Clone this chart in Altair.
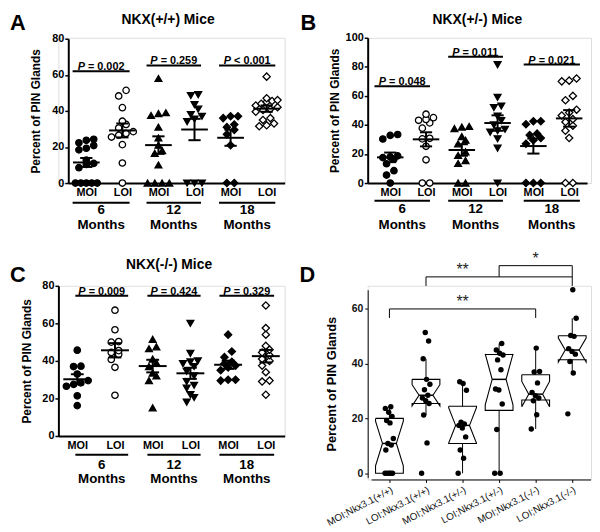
import altair as alt
import numpy as np
import pandas as pd

FONT = "Liberation Sans"

# ---------------- data: percent of PIN glands per mouse ----------------
# Panel A  NKX(+/+)
A_moi_6 = [0, 0, 0, 0, 0, 8.5, 10.3, 10.9, 12.7, 18.4, 19.3, 20.8, 22.3, 23.7, 24.3]
A_loi_6 = [0, 11.1, 21.3, 25.5, 26.5, 27.5, 28.5, 30.5, 32.5, 34.3, 41.8, 48.3, 51.4]
A_moi_12 = [0, 0, 0, 0, 10, 16.5, 18, 21, 25, 31, 37.5, 38.5, 39, 58]
A_loi_12 = [0, 0, 0, 34, 35.5, 37, 38, 41, 43.5, 48.5, 49]
A_moi_18 = [0, 0, 21, 27, 29.5, 31, 32.5, 36, 37, 37]
A_loi_18 = [31.5, 32, 33, 35, 36, 39.5, 40.5, 41, 42, 43, 44, 45, 45.5, 46, 47, 59]
# Panel B  NKX(+/-)
B_moi_6 = [0, 5.5, 8.5, 13.3, 16.5, 17.5, 18, 18.7, 30.3, 32.8, 33.4]
B_loi_6 = [0, 0, 16, 25.3, 30.4, 30.8, 37.8, 41.4, 43.2, 43.8, 45, 47.4]
B_moi_12 = [0, 0, 13.5, 15.5, 19, 21.5, 27, 29.5, 32, 37.5, 38.5, 39]
B_loi_12 = [0, 24, 30.5, 35, 36, 37, 40, 43, 46, 52, 53, 59, 81.5]
B_moi_18 = [0, 0, 0, 27, 29.5, 31, 33, 34, 40.5, 42.5, 42.5]
B_loi_18 = [0, 0, 31, 36, 39.5, 42, 44, 46.5, 48.5, 50.5, 57, 60, 70, 70.5, 72]
# Panel C  NKX(-/-)
C_moi_6 = [16.2, 21.4, 26.5, 27.5, 28.3, 29.5, 33, 37, 37.2, 45.7]
C_loi_6 = [21.7, 36.6, 40.8, 43.5, 44.5, 45.5, 50, 50.3, 56.6, 67]
C_moi_12 = [15, 29.5, 32, 33.5, 37, 39, 41, 46.5, 47.5, 51.5]
C_loi_12 = [18, 20.5, 22, 25.5, 27, 29, 32, 34.5, 37, 38.5, 39.5, 40, 44, 60]
C_moi_18 = [29.5, 30, 30, 35, 36.5, 37.5, 38.5, 39.5, 42, 45, 54]
C_loi_18 = [22, 29, 29.5, 34, 37.5, 40, 41, 43, 44.5, 46, 48, 54, 57.5, 69.5]

A_pvals = ["= 0.002", "= 0.259", "< 0.001"]
B_pvals = ["= 0.048", "= 0.011", "= 0.021"]
C_pvals = ["= 0.009", "= 0.424", "= 0.329"]

categories = ["MOI", "LOI", "MOI", "LOI", "MOI", "LOI"]
months = ["6", "12", "18"]

D_labels = ["MOI;Nkx3.1(+/+)", "LOI;Nkx3.1(+/+)", "MOI;Nkx3.1(+/-)",
            "LOI;Nkx3.1(+/-)", "MOI;Nkx3.1(-/-)", "LOI;Nkx3.1(-/-)"]
D_groups = [A_moi_6, A_loi_6, B_moi_6, B_loi_6, C_moi_6, C_loi_6]
D_sig_text = ["**", "**", "*"]

# ---------------- styles ----------------
SHAPES = ["circle", "circle", "triangle-up", "triangle-down", "diamond", "diamond"]
FILLS = ["black", "white", "black", "black", "black", "white"]
SIZES = [42, 42, 48, 48, 54, 54]


def swarm(vals, yppu, step=7.5, thresh=6.0, maxspan=22.0):
    vals = np.asarray(vals, dtype=float)
    order = np.argsort(vals, kind="stable")
    offs = np.zeros(len(vals))
    groups, cur, base = [], [order[0]], vals[order[0]]
    for k in order[1:]:
        if (vals[k] - base) * yppu < thresh:
            cur.append(k)
        else:
            groups.append(cur)
            cur, base = [k], vals[k]
    groups.append(cur)
    for g in groups:
        n = len(g)
        st = step if n < 2 else min(step, maxspan / (n - 1))
        for j, k in enumerate(g):
            offs[k] = (j - (n - 1) / 2) * st
    return offs


def text_layer(txt, x, y, size, weight="bold", align="center", baseline="alphabetic"):
    return alt.Chart(pd.DataFrame({"t": [txt]})).mark_text(
        font=FONT, fontSize=size, fontWeight=weight, align=align, baseline=baseline, color="black"
    ).encode(x=alt.value(x), y=alt.value(y), text="t:N")


def prism_panel(vals_list, pvals, g, anchor=False):
    xppu = (g["xr"][1] - g["xr"][0]) / (g["xdom"][1] - g["xdom"][0])
    yppu = abs(g["yr"][0] - g["yr"][1]) / (g["ydom"][1] - g["ydom"][0])
    xs = alt.Scale(domain=g["xdom"], range=g["xr"], nice=False, zero=False)
    ys = alt.Scale(domain=g["ydom"], range=g["yr"], nice=False)
    xaxis = alt.Axis(values=[0.5, 1.5, 2.5, 3.5, 4.5, 5.5],
                     labelExpr="floor(datum.value) % 2 == 0 ? 'MOI' : 'LOI'",
                     ticks=False, title=None, labelFont=FONT, labelFontWeight="bold",
                     labelFontSize=11, labelPadding=4, labelColor="black", labelAngle=0,
                     labelFlush=False, domainWidth=2, domainColor="black", grid=False)
    yaxis = alt.Axis(values=g["yticks"], tickSize=3.5, tickWidth=1.5, tickColor="black",
                     domainWidth=2, domainColor="black", labelFont=FONT, labelFontWeight="bold",
                     labelFontSize=11, labelPadding=1, labelColor="black", labelFlush=False,
                     title="Percent of PIN Glands", titleFont=FONT, titleFontWeight="bold",
                     titleFontSize=12, titleColor="black", titlePadding=g["tpad"],
                     offset=g["yoff"], grid=False)

    def X(f):
        return alt.X(f, type="quantitative", scale=xs, axis=xaxis)

    def Y(f):
        return alt.Y(f, type="quantitative", scale=ys, axis=yaxis)

    rows = []
    for i, vals in enumerate(vals_list):
        offs = swarm(vals, yppu)
        for v, o in zip(vals, offs):
            rows.append(dict(pos=i + 0.5, v=v, xj=i + 0.5 + o / xppu,
                             shape=SHAPES[i], fill=FILLS[i], size=SIZES[i]))
    df = pd.DataFrame(rows)

    pts = alt.Chart(df).mark_point(filled=True, stroke="black", strokeWidth=1.3, opacity=1).encode(
        x=X("xj"), y=Y("v"),
        shape=alt.Shape("shape:N", scale=None),
        fill=alt.Fill("fill:N", scale=None),
        size=alt.Size("size:Q", scale=None),
    )
    stats = alt.Chart(df).transform_aggregate(
        m="mean(v)", se="stderr(v)", groupby=["pos"]
    ).transform_calculate(
        lo="datum.m - datum.se", hi="datum.m + datum.se",
        xl="datum.pos - 0.37", xr="datum.pos + 0.37",
        cl="datum.pos - 0.17", cr="datum.pos + 0.17",
    )
    mean_rule = stats.mark_rule(strokeWidth=2, color="black").encode(x=X("xl"), x2="xr:Q", y=Y("m"))
    sem_rule = stats.mark_rule(strokeWidth=2, color="black").encode(x=X("pos"), y=Y("lo"), y2="hi:Q")
    cap_hi = stats.mark_rule(strokeWidth=2, color="black").encode(x=X("cl"), x2="cr:Q", y=Y("hi"))
    cap_lo = stats.mark_rule(strokeWidth=2, color="black").encode(x=X("cl"), x2="cr:Q", y=Y("lo"))

    pb = pd.DataFrame(dict(
        x1=[s[0] for s in g["spans"]], x2=[s[1] for s in g["spans"]],
        c=[(s[0] + s[1]) / 2 for s in g["spans"]], y=g["pbar_y"], t=pvals, m=months,
        mo=["Months"] * 3,
    ))
    bars = alt.Chart(pb).mark_rule(strokeWidth=2, color="black").encode(x=X("x1"), x2="x2:Q", y=Y("y"))
    p_it = alt.Chart(pb).mark_text(text="P", font=FONT, fontStyle="italic", fontWeight="bold",
                                   fontSize=11, align="right", dx=-16.4, dy=-4,
                                   color="black").encode(x=X("c"), y=Y("y"))
    p_rest = alt.Chart(pb).mark_text(font=FONT, fontWeight="bold", fontSize=11, align="left",
                                     dx=-13.3, dy=-4, color="black").encode(
        x=X("c"), y=Y("y"), text="t:N")
    ul = alt.Chart(pb).mark_rule(strokeWidth=2, color="black").encode(
        x=X("x1"), x2="x2:Q", y=alt.value(g["ul"]))
    num = alt.Chart(pb).mark_text(font=FONT, fontWeight="bold", fontSize=13.5, baseline="middle",
                                  color="black").encode(x=X("c"), y=alt.value(g["num"]), text="m:N")
    mon = alt.Chart(pb).mark_text(font=FONT, fontWeight="bold", fontSize=13.5, baseline="middle",
                                  color="black").encode(x=X("c"), y=alt.value(g["mon"]), text="mo:N")

    layers = [pts, mean_rule, sem_rule, cap_hi, cap_lo, bars, p_it, p_rest, ul, num, mon,
              text_layer(g["title"], g["title_xy"][0], g["title_xy"][1], 14),
              text_layer(g["letter"], g["letter_xy"][0], g["letter_xy"][1], 22, align="left")]
    if anchor:
        layers.append(alt.Chart(pd.DataFrame({"a": [0]})).mark_rect(opacity=0).encode(
            x=alt.value(-50), x2=alt.value(-49), y=alt.value(-25), y2=alt.value(-24)))
    return alt.layer(*layers).properties(width=g["w"], height=g["h"])


GA = dict(w=229, h=147, xdom=[0, 6], xr=[10, 229], ydom=[0, 80], yr=[147, 1], yoff=-10,
          yticks=[0, 20, 40, 60, 80], tpad=9, pbar_y=[62, 65.2, 65.2],
          spans=[(0.12, 1.7), (2.17, 3.68), (4.18, 5.74)], ul=167, num=174, mon=189.5,
          title="NKX(+/+) Mice", title_xy=(111, -13.5), letter="A", letter_xy=(-49, -8))
GB = dict(w=226, h=147, xdom=[-0.13, 6], xr=[0, 222], ydom=[0, 100], yr=[147, 0], yoff=0,
          yticks=[0, 20, 40, 60, 80, 100], tpad=4, pbar_y=[66.7, 87, 81.6],
          spans=[(0.06, 1.61), (2.12, 3.65), (4.23, 5.8)], ul=165, num=173.7, mon=189.7,
          title="NKX(+/-) Mice", title_xy=(111, -13.5), letter="B", letter_xy=(-68, -8))
GC = dict(w=229, h=152, xdom=[0, 6], xr=[0, 229], ydom=[0, 80], yr=[152, 0], yoff=0,
          yticks=[0, 20, 40, 60, 80], tpad=8, pbar_y=[74.7, 74.7, 74.7],
          spans=[(0.45, 1.85), (2.36, 3.77), (4.27, 5.72)], ul=171, num=181, mon=196,
          title="NKX(-/-) Mice", title_xy=(112, -17), letter="C", letter_xy=(-49, -4))

panelA = prism_panel([A_moi_6, A_loi_6, A_moi_12, A_loi_12, A_moi_18, A_loi_18], A_pvals, GA, anchor=True)
panelB = prism_panel([B_moi_6, B_loi_6, B_moi_12, B_loi_12, B_moi_18, B_loi_18], B_pvals, GB)
panelC = prism_panel([C_moi_6, C_loi_6, C_moi_12, C_loi_12, C_moi_18, C_loi_18], C_pvals, GC)

# ---------------- panel D: notched box plots ----------------
HW, IND = 0.38, 0.19
poly, whisk, meds, dots = [], [], [], []
for i, vals in enumerate(D_groups):
    v = np.asarray(vals, dtype=float)
    q1, med, q3 = np.percentile(v, [25, 50, 75])
    iqr = q3 - q1
    nd = 1.58 * iqr / np.sqrt(len(v))
    nlo, nhi = med - nd, med + nd
    c = i + 0.5
    lo = v[v >= q1 - 1.5 * iqr].min()
    hi = v[v <= q3 + 1.5 * iqr].max()
    verts = [(c - HW, q3), (c - HW, nhi), (c - HW + IND, med), (c - HW, nlo), (c - HW, q1),
             (c + HW, q1), (c + HW, nlo), (c + HW - IND, med), (c + HW, nhi), (c + HW, q3),
             (c - HW, q3)]
    for k, (xx, yy) in enumerate(verts):
        poly.append(dict(g=i, k=k, x=xx, y=yy))
    whisk.append(dict(x=c, a=lo, b=q1))
    whisk.append(dict(x=c, a=q3, b=hi))
    meds.append(dict(x1=c - HW + IND, x2=c + HW - IND, y=med))
    for k, val in enumerate(vals):
        dots.append(dict(x=c + (((k * 0.618034) % 1.0) - 0.5) * 0.24, y=val))

Dxs = alt.Scale(domain=[0, 6], range=[3.5, 225.5], nice=False, zero=False)
Dys = alt.Scale(domain=[-1.6, 67], range=[194.2, 4.0], nice=False, zero=False)
label_arr = "[" + ",".join("'%s'" % s for s in D_labels) + "]"
Dxaxis = alt.Axis(values=[0.5, 1.5, 2.5, 3.5, 4.5, 5.5], labelExpr=label_arr + "[floor(datum.value)]",
                  labelAngle=332, labelAlign="right", labelBaseline="top", labelFont=FONT,
                  labelFontSize=10, labelColor="#111", labelPadding=2, tickSize=3, tickColor="black",
                  domainColor="black", title=None, grid=False, labelFlush=False, labelOverlap=False)
Dyaxis = alt.Axis(values=[0, 20, 40, 60], tickSize=3, tickColor="black", domainColor="black",
                  labelFont=FONT, labelFontSize=10.5, labelFontWeight="bold", labelColor="#111",
                  labelPadding=2, title="Percent of PIN Glands", titleFont=FONT, titleFontSize=13,
                  titleFontWeight="bold", titleColor="black", titlePadding=13, grid=False,
                  labelFlush=False)


def DX(f):
    return alt.X(f, type="quantitative", scale=Dxs, axis=Dxaxis)


def DY(f):
    return alt.Y(f, type="quantitative", scale=Dys, axis=Dyaxis)


d_whisk = alt.Chart(pd.DataFrame(whisk)).mark_rule(color="black", strokeWidth=1).encode(
    x=DX("x"), y=DY("a"), y2="b:Q")
d_box = alt.Chart(pd.DataFrame(poly)).mark_line(color="black", strokeWidth=1.1).encode(
    x=DX("x"), y=DY("y"), detail="g:N", order="k:Q")
d_med = alt.Chart(pd.DataFrame(meds)).mark_rule(color="black", strokeWidth=1.5).encode(
    x=DX("x1"), x2="x2:Q", y=DY("y"))
d_dots = alt.Chart(pd.DataFrame(dots)).mark_circle(color="black", size=30, opacity=1).encode(
    x=DX("x"), y=DY("y"))

brk = pd.DataFrame(dict(x1=[0.5, 1.5, 3.5], x2=[4.5, 5.5, 5.5], y=[60, 71.7, 75.8],
                        yd=[56.7, 68.4, 71.7], lx=[2.5, 2.5, 4.5], t=D_sig_text))
b_h = alt.Chart(brk).mark_rule(color="black", strokeWidth=1).encode(x=DX("x1"), x2="x2:Q", y=DY("y"))
b_l = alt.Chart(brk).mark_rule(color="black", strokeWidth=1).encode(x=DX("x1"), y=DY("y"), y2="yd:Q")
b_r = alt.Chart(brk).mark_rule(color="black", strokeWidth=1).encode(x=DX("x2"), y=DY("y"), y2="yd:Q")
b_t = alt.Chart(brk).mark_text(font=FONT, fontSize=16, color="#222", dy=-2, baseline="alphabetic").encode(
    x=DX("lx"), y=DY("y"), text="t:N")

panelD = alt.layer(d_whisk, d_box, d_med, d_dots, b_h, b_l, b_r, b_t,
                   text_layer("D", -69, -4, 22, align="left")).properties(width=226, height=196)

chart = alt.concat(panelA, panelB, panelC, panelD, columns=2,
                   spacing={"row": 104, "column": 84}, bounds="flush", align="each").properties(
    padding=0).configure_view(strokeWidth=0).configure(font=FONT)

chart.save("out.html", embed_options={"renderer": "svg", "actions": False})
